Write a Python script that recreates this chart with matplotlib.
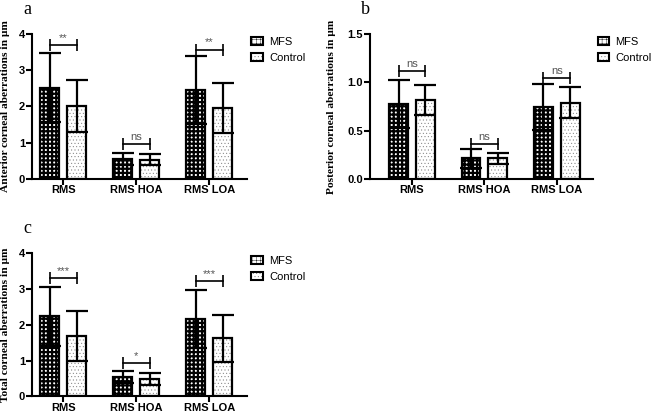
import numpy as np
import matplotlib
matplotlib.use('Agg')
import matplotlib.pyplot as plt
from matplotlib.patches import Patch

# data
groups = ['RMS', 'RMS HOA', 'RMS LOA']
series = ['MFS', 'Control']

ant_mfs = [2.52, 0.55, 2.46]
ant_mfs_sd = [0.95, 0.16, 0.94]
ant_ctrl = [2.02, 0.53, 1.96]
ant_ctrl_sd = [0.71, 0.15, 0.69]
ant_sig = ['**', 'ns', '**']
ant_sig_y = [3.70, 0.97, 3.57]

post_mfs = [0.775, 0.215, 0.745]
post_mfs_sd = [0.25, 0.10, 0.235]
post_ctrl = [0.82, 0.215, 0.79]
post_ctrl_sd = [0.155, 0.055, 0.16]
post_sig = ['ns', 'ns', 'ns']
post_sig_y = [1.12, 0.365, 1.04]

tot_mfs = [2.23, 0.55, 2.16]
tot_mfs_sd = [0.83, 0.17, 0.82]
tot_ctrl = [1.69, 0.48, 1.62]
tot_ctrl_sd = [0.69, 0.17, 0.66]
tot_sig = ['***', '*', '***']
tot_sig_y = [3.29, 0.93, 3.22]

plt.rcParams['axes.linewidth'] = 1.5
plt.rcParams['font.family'] = ['Liberation Sans', 'DejaVu Sans']

fig = plt.figure(figsize=(6.6, 4.13), dpi=100)

bar_w = 0.26
off = 0.186
dark_hatch = '++++'
dot_hatch = '.....'


def draw_bars(ax, x, vals, hatch, hcolor, hlw):
    plt.rcParams['hatch.linewidth'] = hlw
    ax.bar(x, vals, width=bar_w, color='white', edgecolor=hcolor,
           hatch=hatch, linewidth=0, zorder=2)
    ax.bar(x, vals, width=bar_w, color='none', edgecolor='black',
           linewidth=1.6, zorder=3)


def panel(rect, letter, ylabel, mfs, mfs_sd, ctrl, ctrl_sd, sig, sig_y,
          ylim, yticks, xlim, label_x, fmt):
    ax = fig.add_axes(rect)
    x = np.arange(len(groups))
    draw_bars(ax, x - off, mfs, dark_hatch, 'black', 1.6)
    draw_bars(ax, x + off, ctrl, dot_hatch, '#777777', 0.3)
    ax.errorbar(x - off, mfs, yerr=mfs_sd, fmt='none', ecolor='black',
                elinewidth=1.6, capsize=8, capthick=1.6, zorder=4)
    ax.errorbar(x + off, ctrl, yerr=ctrl_sd, fmt='none', ecolor='black',
                elinewidth=1.6, capsize=8, capthick=1.6, zorder=4)
    for i in range(len(groups)):
        ax.plot([x[i] - off, x[i] + off], [sig_y[i], sig_y[i]], color='black',
                lw=1.2, marker='|', ms=8, mew=1.2, zorder=4, clip_on=False)
        ax.annotate(sig[i], (x[i], sig_y[i]), xytext=(0, 1.5),
                    textcoords='offset points', ha='center', va='bottom',
                    fontsize=8, color='#555555')
    ax.set_xlim(xlim)
    ax.set_ylim(ylim)
    ax.set_yticks(yticks)
    ax.set_yticklabels([fmt.format(v) for v in yticks])
    ax.set_xticks(x)
    ax.set_xticklabels(groups)
    for lab in ax.get_xticklabels() + ax.get_yticklabels():
        lab.set_fontweight('bold')
        lab.set_fontsize(8)
    ax.tick_params(axis='both', length=4, width=1.5, pad=1)
    ax.tick_params(axis='x', pad=0.5)
    ax.spines['top'].set_visible(False)
    ax.spines['right'].set_visible(False)
    ax.set_ylabel(ylabel, family='Liberation Serif', fontweight='bold',
                  fontsize=8.2)
    ax.yaxis.set_label_coords(label_x, 0.5)
    handles = [Patch(facecolor='white', edgecolor='black', hatch=dark_hatch, linewidth=1.5),
               (Patch(facecolor='white', edgecolor='#777777', hatch=dot_hatch, linewidth=0),
                Patch(facecolor='none', edgecolor='black', linewidth=1.5))]
    ax.legend(handles, series, loc='upper left', bbox_to_anchor=(1.02, 0.98),
              frameon=False, fontsize=8, borderpad=0, borderaxespad=0,
              handlelength=1.0, handleheight=0.8, handletextpad=0.6,
              labelspacing=0.5)
    fig.text(rect[0] - 0.013, rect[1] + rect[3] + 0.06, letter,
             family='Liberation Serif', fontsize=13, ha='left', va='center')
    return ax


plt.rcParams['hatch.linewidth'] = 1.6
panel([0.0485, 0.5666, 0.326, 0.3511], 'a', 'Anterior corneal aberrations in μm',
      ant_mfs, ant_mfs_sd, ant_ctrl, ant_ctrl_sd, ant_sig, ant_sig_y,
      (0, 4), [0, 1, 2, 3, 4], (-0.43, 2.52), -0.10, '{:.0f}')
panel([0.5606, 0.5666, 0.338, 0.3511], 'b', 'Posterior corneal aberrations in μm',
      post_mfs, post_mfs_sd, post_ctrl, post_ctrl_sd, post_sig, post_sig_y,
      (0, 1.5), [0.0, 0.5, 1.0, 1.5], (-0.58, 2.50), -0.152, '{:.1f}')
panel([0.0485, 0.0400, 0.326, 0.3474], 'c', 'Total corneal aberrations in μm',
      tot_mfs, tot_mfs_sd, tot_ctrl, tot_ctrl_sd, tot_sig, tot_sig_y,
      (0, 4), [0, 1, 2, 3, 4], (-0.43, 2.52), -0.10, '{:.0f}')

fig.savefig('out.png', dpi=100)
